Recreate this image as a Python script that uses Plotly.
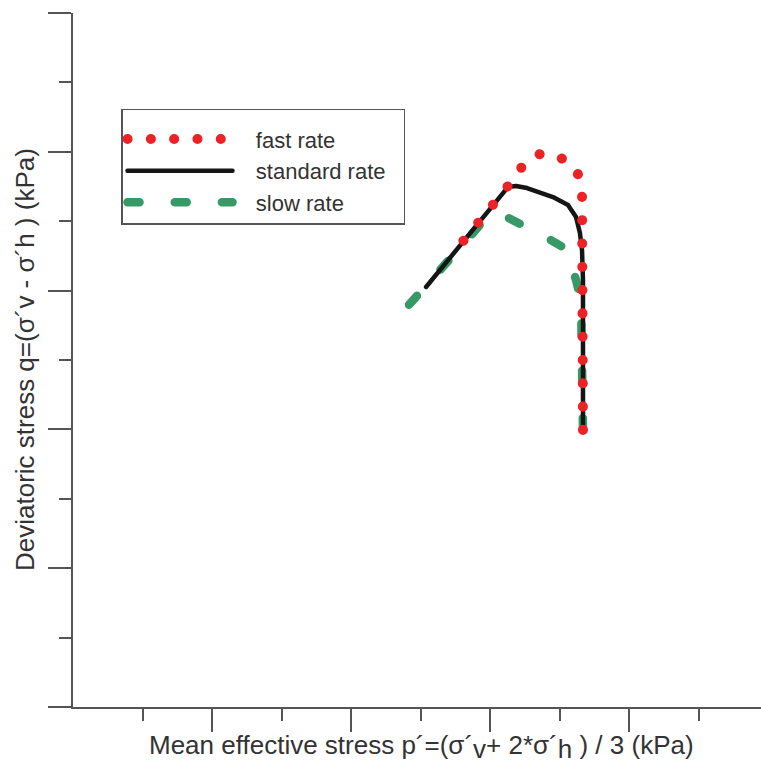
import plotly.graph_objects as go

# data (x, y in axis units; major tick = 1 unit)
std_x = [2.540, 3.129, 3.187, 3.266, 3.453, 3.561, 3.619, 3.647, 3.662, 3.669, 3.669]
std_y = [3.026, 3.746, 3.754, 3.739, 3.674, 3.617, 3.530, 3.415, 3.293, 3.076, 1.996]

fast_x = [3.669, 3.669, 3.669, 3.662, 3.640, 3.590, 3.496, 3.396, 3.331, 3.259, 3.201, 3.108, 2.784]
fast_y = [1.996, 3.365, 3.530, 3.703, 3.826, 3.912, 3.963, 3.991, 3.977, 3.927, 3.855, 3.725, 3.329]

slow_x = [3.669, 3.669, 3.655, 3.619, 3.576, 3.547, 3.424, 3.237, 3.122, 3.065, 3.014, 2.957, 2.878, 2.712, 2.403]
slow_y = [1.996, 2.745, 2.931, 3.076, 3.206, 3.300, 3.372, 3.465, 3.530, 3.559, 3.552, 3.509, 3.415, 3.228, 2.882]

x_major = [1, 2, 3, 4]
x_minor = [0.5, 1.5, 2.5, 3.5, 4.5]
y_major = [0, 1, 2, 3, 4, 5]
y_minor = [0.5, 1.5, 2.5, 3.5, 4.5]

RED = "#ec2227"
GREEN = "#379a66"
BLACK = "#151515"
AXIS = "#555555"
TXT = "#333333"
FONT = "Liberation Sans, Arial, sans-serif"
PAD = "\u00a0\u00a0\u00a0"
TAIL = "\u00a0\u00a0"

fig = go.Figure()
fig.add_trace(go.Scatter(x=slow_x, y=slow_y, mode="lines", name=PAD + "slow rate" + TAIL,
                         line=dict(color=GREEN, width=8.5, dash="12px,35.2px")))
fig.add_trace(go.Scatter(x=std_x, y=std_y, mode="lines", name=PAD + "standard rate" + TAIL,
                         line=dict(color=BLACK, width=4.5)))
fig.add_trace(go.Scatter(x=fast_x, y=fast_y, mode="lines", name=PAD + "fast rate" + TAIL,
                         line=dict(color=RED, width=10, dash="0.1px,23.2px")))

axis_common = dict(showline=True, linecolor=AXIS, linewidth=1.5, showgrid=False,
                   zeroline=False, showticklabels=False, ticks="outside",
                   tickcolor=AXIS, tickwidth=1.5, ticklen=23, tickmode="array")

fig.update_xaxes(range=[0, 688 / 139], tickvals=x_major,
                 minor=dict(tickvals=x_minor, ticks="outside", ticklen=12,
                            tickcolor=AXIS, tickwidth=1.5),
                 **axis_common)
fig.update_yaxes(range=[0, 5], tickvals=y_major,
                 minor=dict(tickvals=y_minor, ticks="outside", ticklen=12,
                            tickcolor=AXIS, tickwidth=1.5),
                 **axis_common)

fig.update_layout(
    width=761, height=764,
    margin=dict(l=73, r=0, t=13, b=57),
    paper_bgcolor="white", plot_bgcolor="white",
    font=dict(family=FONT, color=TXT, size=22),
    showlegend=True,
    legend=dict(x=0.0698, y=0.8617, xanchor="left", yanchor="top",
                bordercolor=AXIS, borderwidth=1.5, bgcolor="rgba(255,255,255,0)",
                traceorder="reversed", itemwidth=105,
                title=dict(text="\u00a0", font=dict(size=6)),
                font=dict(family=FONT, size=22, color=TXT)),
    annotations=[
        dict(text="Mean effective stress p´=(σ´<span style='baseline-shift:-4px'>v</span>+ 2*σ´<span style='baseline-shift:-4px'>h</span> ) / 3 (kPa)",
             xref="paper", yref="paper", x=0.506, y=-0.0576,
             xanchor="center", yanchor="middle", showarrow=False,
             font=dict(family=FONT, size=26, color=TXT)),
        dict(text="Deviatoric stress q=(σ´v - σ´h ) (kPa)",
             xref="paper", yref="paper", x=-0.0698, y=0.5014, textangle=-90,
             xanchor="center", yanchor="middle", showarrow=False,
             font=dict(family=FONT, size=26, color=TXT)),
    ],
)

post = """
var gd = document.getElementById('{plot_id}');
gd.querySelectorAll('path.js-line').forEach(function(p){
  p.style.strokeLinecap='round'; p.style.strokeLinejoin='round';
});
"""
fig.write_html("out.html", post_script=post)
